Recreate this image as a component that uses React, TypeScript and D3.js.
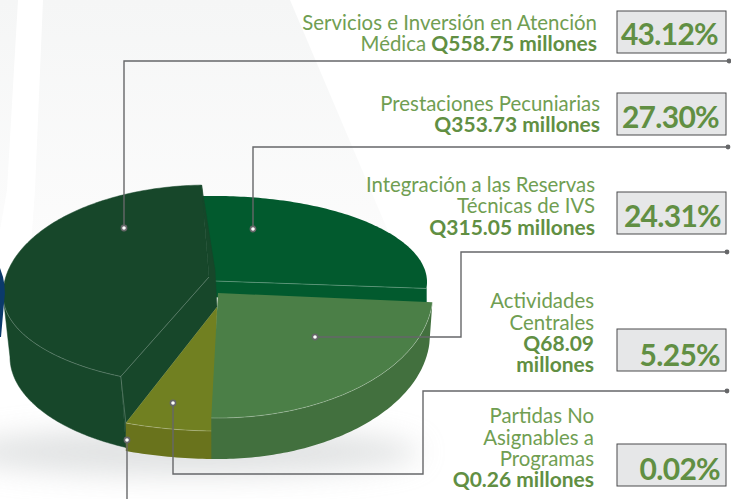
import React from "react";
import * as d3 from "d3";

const categories = ["Servicios e Inversión en Atención Médica", "Prestaciones Pecuniarias", "Integración a las Reservas Técnicas de IVS", "Actividades Centrales", "Partidas No Asignables a Programas"];
const shares = [43.12, 27.3, 24.31, 5.25, 0.02];
const amounts = ["Q558.75 millones", "Q353.73 millones", "Q315.05 millones", "Q68.09 millones", "Q0.26 millones"];
const percentLabels = ["43.12%", "27.30%", "24.31%", "5.25%", "0.02%"];
const pieOrder = [1, 2, 3, 4, 0];

const FONT = "Lato, 'Open Sans', sans-serif";
const GREEN = "#709e52";
const GREEN_BOLD = "#618f43";
const LINE = "#666769";

type Ell = { cx: number; cy: number; rx: number; ryTop: number; ryBot: number };
type Pt = [number, number];
const deg = Math.PI / 180;

const project = (e: Ell, a: number): Pt => {
  const c = Math.cos(a);
  return [e.cx + e.rx * Math.sin(a), e.cy - (c > 0 ? e.ryTop : e.ryBot) * c];
};
const arcPts = (e: Ell, a0: number, a1: number): Pt[] => {
  const n = Math.max(2, Math.ceil(Math.abs(a1 - a0) / (1 * deg)));
  return d3.range(n + 1).map((i) => project(e, a0 + ((a1 - a0) * i) / n));
};
const line = d3.line<Pt>();
const closed = (pts: Pt[]) => (line(pts) as string) + "Z";

const pie = d3.pie<number>().sort(null).value((d) => d).startAngle(-4 * deg).endAngle(356 * deg);
const arcs = pie(pieOrder.map((i) => shares[i]));
const angle = (cat: number) => arcs[pieOrder.indexOf(cat)];

// Geometry of each drawn (distorted, exploded) slice
const darkTop: Ell = { cx: 215, cy: 282, rx: 212, ryTop: 86, ryBot: 86 };
const leftTop: Ell = { cx: 208, cy: 295, rx: 205, ryTop: 110, ryBot: 90 };
const leftBot: Ell = { cx: 212, cy: 357, rx: 202, ryTop: 100, ryBot: 100 };
const midTop: Ell = { cx: 218, cy: 293, rx: 215, ryTop: 125, ryBot: 125 };
const midBot: Ell = { cx: 218, cy: 334, rx: 212, ryTop: 125, ryBot: 125 };
const oliveTop: Ell = { cx: 217, cy: 307, rx: 258, ryTop: 124, ryBot: 124 };
const oliveBot: Ell = { cx: 217, cy: 335, rx: 258, ryTop: 124, ryBot: 124 };
const frontShift = 4.4 * deg;
const backShift = 2.2 * deg;

type Lines = { text: string; bold?: boolean; parts?: { t: string; b?: boolean }[]; y: number };
const labelBlocks: { right: number; lines: Lines[] }[] = [
  { right: 597, lines: [{ text: "Servicios e Inversión en Atención", y: 30 }, { text: "", parts: [{ t: "Médica " }, { t: amounts[0], b: true }], y: 51 }] },
  { right: 600, lines: [{ text: "Prestaciones Pecuniarias", y: 111 }, { text: amounts[1], bold: true, y: 132 }] },
  { right: 595, lines: [{ text: "Integración a las Reservas", y: 192 }, { text: "Técnicas de IVS", y: 213 }, { text: amounts[2], bold: true, y: 235 }] },
  { right: 594, lines: [{ text: "Actividades", y: 308 }, { text: "Centrales", y: 330 }, { text: "Q68.09", bold: true, y: 351 }, { text: "millones", bold: true, y: 372 }] },
  { right: 594, lines: [{ text: "Partidas No", y: 423 }, { text: "Asignables a", y: 445 }, { text: "Programas", y: 466 }, { text: amounts[4], bold: true, y: 487 }] },
];
const boxes = [
  { y: 11, base: 45, right: 718 },
  { y: 93, base: 128, right: 719 },
  { y: 192, base: 227, right: 721 },
  { y: 329, base: 366, right: 720 },
  { y: 444, base: 480, right: 720 },
];
const leaders: { pts: Pt[]; dot: Pt; end?: Pt }[] = [
  { pts: [[124, 228], [124, 61], [729, 61]], dot: [124, 228], end: [729, 61] },
  { pts: [[253, 229], [253, 147], [728, 147]], dot: [253, 229], end: [728, 147] },
  { pts: [[315, 337], [461, 337], [461, 252], [727, 252]], dot: [315, 337], end: [727, 252] },
  { pts: [[173, 403], [173, 474], [423, 474], [423, 391], [727, 391]], dot: [173, 403], end: [727, 391] },
  { pts: [[127, 440], [127, 499]], dot: [127, 440] },
];

export default function App() {
  const dk = angle(1), md = angle(2), ol = angle(3), lf = angle(0);
  const lfA0 = lf.startAngle + frontShift, lfA1 = lf.endAngle + backShift;
  const olA0 = ol.startAngle - 1.5 * deg;

  // dark slice
  const dkR = project(darkTop, dk.endAngle);
  const dkFace = closed([[215, 281], ...arcPts(darkTop, dk.startAngle, dk.endAngle)]);
  const dkStrip = closed([[215, 281], dkR, [dkR[0], dkR[1] + 16], [215, 297]]);

  // left (largest) slice
  const apex: Pt = [209, 277];
  const lfFront = project(leftTop, lfA0);
  const lfFrontB = project(leftBot, lfA0);
  const lfBack = project(leftTop, lfA1);
  const lfFace = closed([apex, ...arcPts(leftTop, lfA0, lfA1)]);
  const lfSide = closed([...arcPts(leftTop, lfA0, 270 * deg), ...arcPts(leftBot, 270 * deg, lfA0)]);
  const oliveApex: Pt = [217, 307];
  const olF = project(oliveTop, ol.endAngle);
  const lfWall = closed([lfBack, [215, 270], oliveApex, olF, lfFrontB, lfFront, apex]);

  // olive
  const olFace = closed([oliveApex, ...arcPts(oliveTop, olA0, ol.endAngle)]);
  const olSide = closed([...arcPts(oliveTop, olA0, ol.endAngle), ...arcPts(oliveBot, ol.endAngle, olA0)]);

  // medium
  const mdFace = closed([[218, 293], ...arcPts(midTop, md.startAngle, md.endAngle)]);
  const mdSide = closed([...arcPts(midTop, md.startAngle, md.endAngle), ...arcPts(midBot, md.endAngle, md.startAngle)]);

  const seam = "rgba(255,255,255,0.38)";
  return (
    <svg width={731} height={499} style={{ position: "fixed", left: 0, top: 0, display: "block" }} fontFamily={FONT}>
      <defs>
        <filter id="blur" x="-30%" y="-100%" width="160%" height="300%">
          <feGaussianBlur stdDeviation="14" />
        </filter>
        <linearGradient id="bg" x1="0" y1="0" x2="0" y2="1">
          <stop offset="0" stopColor="#f5f6f6" />
          <stop offset="0.75" stopColor="#fcfcfc" />
          <stop offset="1" stopColor="#ffffff" />
        </linearGradient>
      </defs>
      <rect width={731} height={499} fill="#fff" />
      <path d="M0,0H290L430,330H0Z" fill="url(#bg)" />
      <path d="M18,0H43L35,190L25,330H0V230L7,190Z" fill="#fff" />
      <ellipse cx={190} cy={452} rx={230} ry={24} fill="#c9cccd" opacity={0.55} filter="url(#blur)" />

      <path d={dkFace} fill="#025a2e" />
      <path d={dkStrip} fill="#025a2e" stroke="#025a2e" strokeWidth={0.5} />
      <path d={line([[215, 281], dkR]) as string} stroke={seam} strokeWidth={0.7} fill="none" />

      <path d={lfSide} fill="#17472a" stroke="#17472a" strokeWidth={0.5} />
      <path d={lfFace} fill="#17472a" stroke="#17472a" strokeWidth={0.5} />
      <path d={lfWall} fill="#17472a" stroke="#17472a" strokeWidth={0.5} />
      <path d={line(arcPts(leftTop, lfA0, 268 * deg)) as string} stroke={seam} strokeWidth={0.6} fill="none" />
      <path d={line([apex, lfFront, olF]) as string} stroke={seam} strokeWidth={0.6} fill="none" />
      <path d="M0,268Q7,285 4,303L1,337L0,337Z" fill="#0b3a6b" />

      <path d={olSide} fill="#69731c" />
      <path d={olFace} fill="#718021" />
      <path d={line(arcPts(oliveTop, olA0, ol.endAngle)) as string} stroke={seam} strokeWidth={0.6} fill="none" />

      <path d={mdSide} fill="#42703e" />
      <path d={mdFace} fill="#4b7f47" />
      <path d={line(arcPts(midTop, md.startAngle, md.endAngle)) as string} stroke={seam} strokeWidth={0.7} fill="none" />

      {leaders.map((l, i) => (
        <g key={i}>
          <path d={line(l.pts) as string} fill="none" stroke={LINE} strokeWidth={1.4} />
          <circle cx={l.dot[0]} cy={l.dot[1]} r={2.6} fill="#fff" stroke={LINE} strokeWidth={1.6} />
          {l.end && <circle cx={l.end[0]} cy={l.end[1]} r={2.4} fill={LINE} />}
        </g>
      ))}

      {labelBlocks.map((b, i) => (
        <text key={i} fontSize={20.4} fill={GREEN} textAnchor="end">
          {b.lines.map((l, j) => (
            <tspan key={j} x={b.right} y={l.y} fontWeight={l.bold ? 700 : 400} fill={l.bold ? GREEN_BOLD : GREEN} fontSize={l.bold ? 21 : 20.4}>
              {l.parts
                ? l.parts.map((p, k) => (
                    <tspan key={k} fontWeight={p.b ? 700 : 400} fill={p.b ? GREEN_BOLD : GREEN} fontSize={p.b ? 21 : 20.4}>{p.t}</tspan>
                  ))
                : l.text}
            </tspan>
          ))}
        </text>
      ))}

      {boxes.map((b, i) => (
        <g key={i}>
          <rect x={617} y={b.y} width={109} height={42} fill="#e6e7e8" stroke="#4a4b4d" strokeWidth={1} />
          <text x={b.right} y={b.base} textAnchor="end" fontSize={30} fontWeight={700} letterSpacing={-0.7} fill={GREEN_BOLD}>{percentLabels[i]}</text>
        </g>
      ))}
      <title>{categories.join(", ")}</title>
    </svg>
  );
}
